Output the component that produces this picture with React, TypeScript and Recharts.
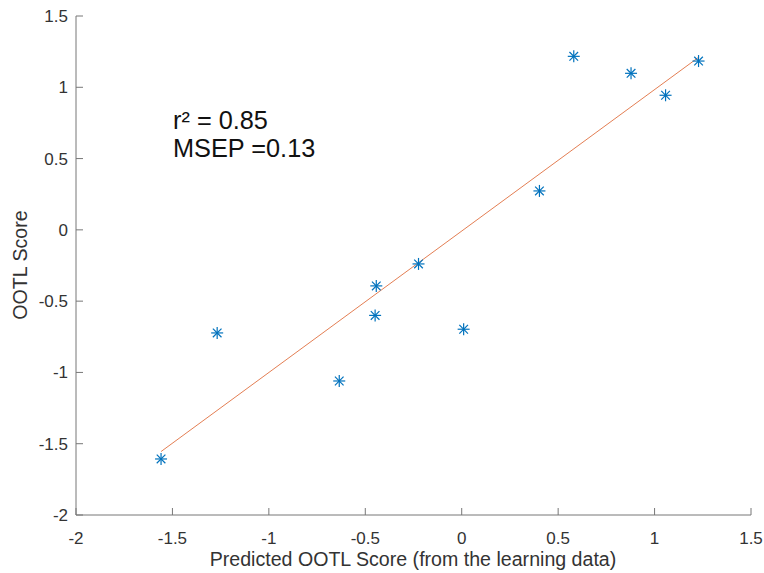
import { ScatterChart, Scatter, XAxis, YAxis } from 'recharts'

const predicted = [-1.559, -1.268, -0.635, -0.443, -0.449, -0.224, 0.01, 0.403, 0.581, 0.878, 1.057, 1.228]
const observed = [-1.607, -0.723, -1.06, -0.393, -0.6, -0.239, -0.697, 0.273, 1.217, 1.098, 0.944, 1.184]
const fitX = [-1.559, 1.228]
const fitY = [-1.555, 1.21]
const xTicks = [-2, -1.5, -1, -0.5, 0, 0.5, 1, 1.5]
const yTicks = [-2, -1.5, -1, -0.5, 0, 0.5, 1, 1.5]

const points = predicted.map((x, i) => ({ x, y: observed[i] }))
const fitLine = fitX.map((x, i) => ({ x, y: fitY[i] }))

const FONT = '"Liberation Sans", Arial, sans-serif'
const AXIS = '#777'
const TEXT = '#333'
const BLUE = '#0072BD'
const ORANGE = '#D95319'

const fmt = (v: number) => String(v)

function XTick({ x, y, payload }: any) {
  return (
    <g>
      <line x1={x} y1={y} x2={x} y2={y - 7} stroke={AXIS} strokeWidth={1} />
      <text x={x} y={y + 29} textAnchor="middle" fontSize={17} fontFamily={FONT} fill={TEXT}>
        {fmt(payload.value)}
      </text>
    </g>
  )
}

function YTick({ x, y, payload }: any) {
  return (
    <g>
      <line x1={x} y1={y} x2={x + 7} y2={y} stroke={AXIS} strokeWidth={1} />
      <text x={x - 8} y={y + 6} textAnchor="end" fontSize={17} fontFamily={FONT} fill={TEXT}>
        {fmt(payload.value)}
      </text>
    </g>
  )
}

function Star({ cx, cy }: any) {
  const r = 6
  const d = r * 0.72
  return (
    <g stroke={BLUE} strokeWidth={1.2}>
      <line x1={cx - r} y1={cy} x2={cx + r} y2={cy} />
      <line x1={cx} y1={cy - r} x2={cx} y2={cy + r} />
      <line x1={cx - d} y1={cy - d} x2={cx + d} y2={cy + d} />
      <line x1={cx - d} y1={cy + d} x2={cx + d} y2={cy - d} />
    </g>
  )
}

export default function App() {
  return (
    <div style={{ position: 'absolute', left: 0, top: 0, width: 764, height: 573, background: '#fff' }}>
      <ScatterChart width={764} height={573} margin={{ top: 16, right: 13, left: 0, bottom: 0 }}>
        <XAxis
          type="number"
          dataKey="x"
          domain={[-2, 1.5]}
          ticks={xTicks}
          allowDataOverflow
          height={58}
          axisLine={{ stroke: AXIS }}
          tickLine={false}
          tickSize={0}
          tickMargin={0}
          tick={<XTick />}
          interval={0}
        />
        <YAxis
          type="number"
          dataKey="y"
          domain={[-2, 1.5]}
          ticks={yTicks}
          allowDataOverflow
          width={76}
          axisLine={{ stroke: AXIS }}
          tickLine={false}
          tickSize={0}
          tickMargin={0}
          tick={<YTick />}
          interval={0}
        />
        <Scatter
          data={fitLine}
          line={{ stroke: ORANGE, strokeWidth: 1, strokeOpacity: 0.75 }}
          shape={() => <g />}
          isAnimationActive={false}
        />
        <Scatter data={points} shape={<Star />} isAnimationActive={false} />
      </ScatterChart>
      <svg
        width={764}
        height={573}
        style={{ position: 'absolute', left: 0, top: 0, pointerEvents: 'none' }}
        fontFamily={FONT}
      >
        <text x={173} y={129} fontSize={25.3} fill="#111">r² = 0.85</text>
        <text x={173} y={157} fontSize={25.3} fill="#111">MSEP =0.13</text>
        <text x={413} y={566} textAnchor="middle" fontSize={19.6} fill={TEXT}>
          Predicted OOTL Score (from the learning data)
        </text>
        <text
          x={27}
          y={265}
          textAnchor="middle"
          fontSize={19.6}
          fill={TEXT}
          transform="rotate(-90 27 265)"
        >
          OOTL Score
        </text>
      </svg>
    </div>
  )
}
